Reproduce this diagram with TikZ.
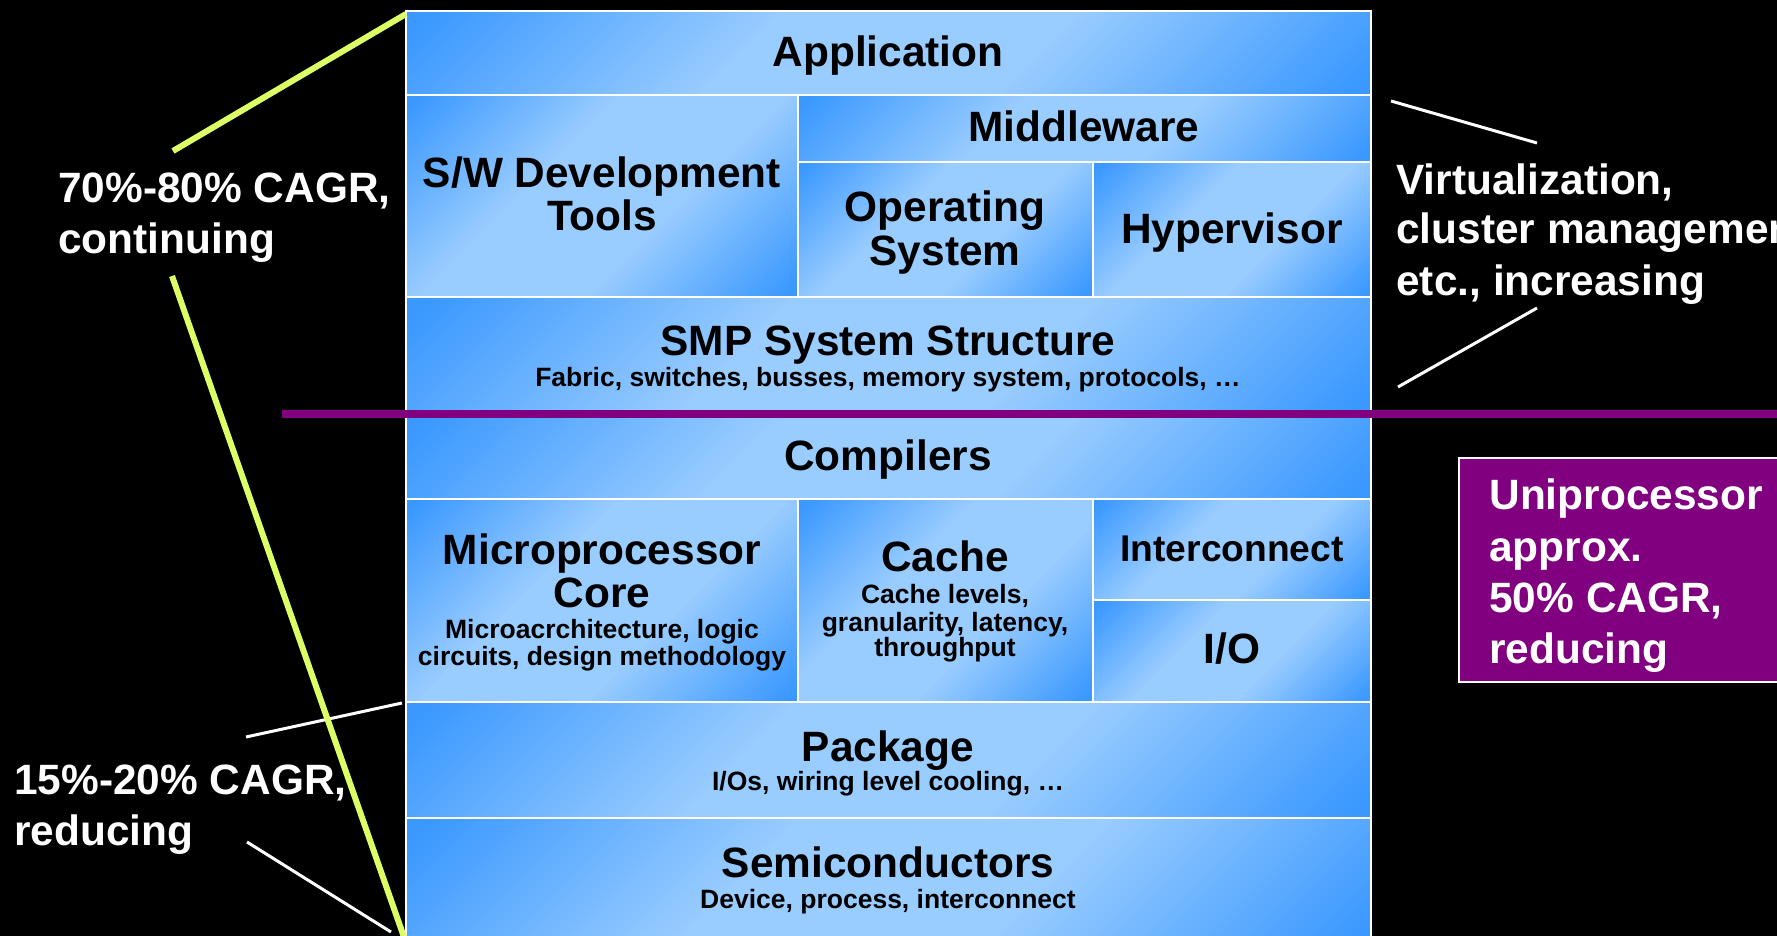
\documentclass[tikz,border=0pt]{standalone}
\usepackage{fontspec}
\setmainfont{Liberation Sans}
\usetikzlibrary{fit}
\definecolor{bdark}{RGB}{58,152,255}
\definecolor{blight}{RGB}{153,204,255}
\definecolor{purp}{RGB}{128,0,128}
\definecolor{lime}{RGB}{221,255,102}
\pgfdeclareverticalshading{boxsh}{100bp}{color(0bp)=(bdark); color(16bp)=(bdark); color(40bp)=(blight); color(60bp)=(blight); color(84bp)=(bdark); color(100bp)=(bdark)}
\tikzset{
  blk/.style={draw=white, line width=1pt, shading=boxsh, shading angle=45, inner sep=0pt},
  big/.style={font=\fontsize{21.2pt}{21.5pt}\selectfont\bfseries, inner sep=0pt, anchor=base, text=black},
  small/.style={font=\fontsize{13.25pt}{14pt}\selectfont\bfseries, inner sep=0pt, anchor=base, text=black},
  lbl/.style={font=\fontsize{21.2pt}{25.5pt}\selectfont\bfseries, inner sep=0pt, anchor=base west, text=white},
  limeline/.style={draw=lime, line width=3pt},
  wline/.style={draw=white, line width=1.5pt},
}
\begin{document}
\begin{tikzpicture}[x=0.5pt, y=-0.5pt]
\useasboundingbox (0,0) rectangle (1777,936);
\clip (0,0) rectangle (1777,936);
\fill[black] (0,0) rectangle (1777,936);
% stack boxes
\node[blk, fit={(406,11) (1371,95)}] (app) {};
\node[blk, fit={(406,95) (798,297)}] (sw) {};
\node[blk, fit={(798,95) (1371,162)}] (mid) {};
\node[blk, fit={(798,162) (1093,297)}] (os) {};
\node[blk, fit={(1093,162) (1371,297)}] (hyp) {};
\node[blk, fit={(406,297) (1371,414)}] (smp) {};
\node[blk, fit={(406,414) (1371,499)}] (comp) {};
\node[blk, fit={(406,499) (798,702)}] (micro) {};
\node[blk, fit={(798,499) (1093,702)}] (cache) {};
\node[blk, fit={(1093,499) (1371,600)}] (inter) {};
\node[blk, fit={(1093,600) (1371,702)}] (io) {};
\node[blk, fit={(406,702) (1371,818)}] (pkg) {};
\node[blk, fit={(406,818) (1371,950)}] (semi) {};
% texts in boxes
\node[big] (tapp) at (888,67) {Application};
\node[big] (tsw1) at (602,188) {S/W Development};
\node[big] (tsw2) at (602,231) {Tools};
\node[big] (tmid) at (1084,142) {Middleware};
\node[big] (tos1) at (945,222) {Operating};
\node[big] (tos2) at (945,265) {System};
\node[big] (thyp) at (1232,243) {Hypervisor};
\node[big] (tsmp) at (888,355) {SMP System Structure};
\node[small] (tsmps) at (888,386) {Fabric, switches, busses, memory system, protocols, …};
\node[big] (tcomp) at (888,470) {Compilers};
\node[big] (tmic1) at (602,564) {Microprocessor};
\node[big] (tmic2) at (602,607) {Core};
\node[small] (tmic3) at (602,638) {Microacrchitecture, logic};
\node[small] (tmic4) at (602,665) {circuits, design methodology};
\node[big] (tcac1) at (945,571) {Cache};
\node[small] (tcac2) at (945,603) {Cache levels,};
\node[small] (tcac3) at (945,631) {granularity, latency,};
\node[small] (tcac4) at (945,656) {throughput};
\node[big, font=\fontsize{18.6pt}{19pt}\selectfont\bfseries] (tint) at (1232,561) {Interconnect};
\node[big] (tio) at (1232,663) {I/O};
\node[big] (tpkg) at (888,761) {Package};
\node[small] (tpkgs) at (888,790) {I/Os, wiring level cooling, …};
\node[big] (tsemi) at (888,877) {Semiconductors};
\node[small] (tsemis) at (888,908) {Device, process, interconnect};
% purple divider
\coordinate (pl) at (282,414);
\coordinate (pr) at (1777,414);
\draw[purp, line width=4pt] (pl) -- (pr);
% purple box
\node[draw=white, line width=1pt, fill=purp, inner sep=0pt, fit={(1459,458) (1800,682)}] (uni) {};
\node[lbl] (u1) at (1489,509) {Uniprocessor};
\node[lbl] (u2) at (1489,561) {approx.};
\node[lbl] (u3) at (1489,612) {50\% CAGR,};
\node[lbl] (u4) at (1489,663) {reducing};
% left labels
\node[lbl] (l1) at (58,203) {70\%-80\% CAGR,};
\node[lbl] (l2) at (58,254) {continuing};
\node[lbl] (l3) at (14,794) {15\%-20\% CAGR,};
\node[lbl] (l4) at (14,845) {reducing};
% right labels
\node[lbl] (r1) at (1396,195) {Virtualization,};
\node[lbl] (r2) at (1396,244) {cluster management,};
\node[lbl] (r3) at (1396,295) {etc., increasing};
% connector end points
\coordinate (g1a) at (173,151);
\coordinate (g1b) at (406,14);
\coordinate (g2a) at (172,276);
\coordinate (g2b) at (405,940);
\coordinate (w1a) at (246,737);
\coordinate (w1b) at (402,703);
\coordinate (w2a) at (247,842);
\coordinate (w2b) at (391,932);
\coordinate (w3a) at (1391,101);
\coordinate (w3b) at (1537,143);
\coordinate (w4a) at (1398,387);
\coordinate (w4b) at (1537,308);
\draw[wline] (w1a) -- (w1b);
\draw[wline] (w2a) -- (w2b);
\draw[wline] (w3a) -- (w3b);
\draw[wline] (w4a) -- (w4b);
\draw[limeline] (g1a) -- (g1b);
\draw[limeline] (g2a) -- (g2b);
\end{tikzpicture}
\end{document}
